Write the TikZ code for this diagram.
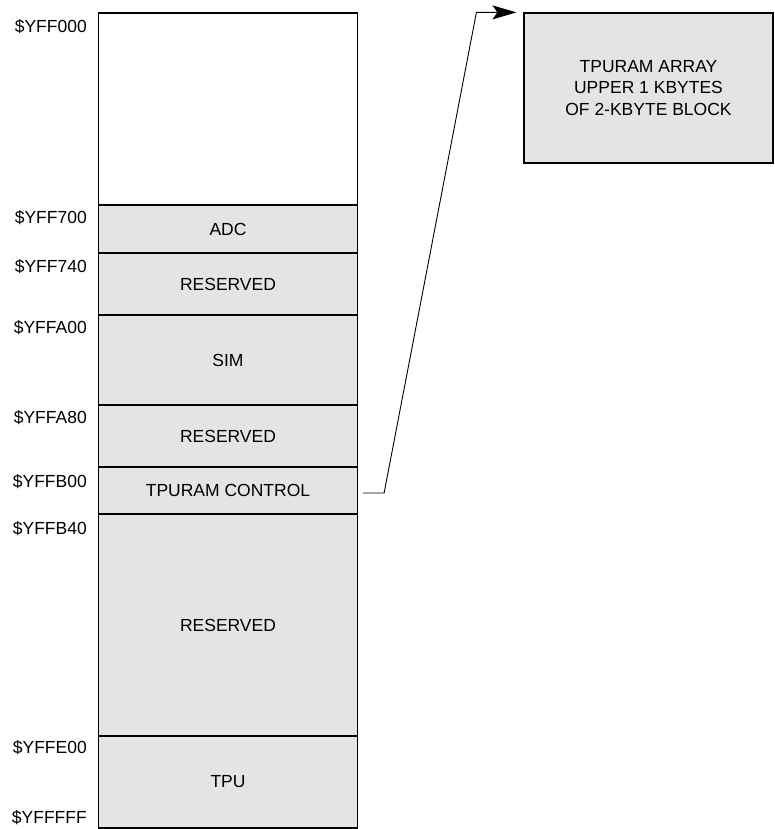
\documentclass[tikz,border=0pt]{standalone}
\usepackage{fontspec}
\setmainfont{Liberation Sans}
\usetikzlibrary{arrows.meta,positioning}
\definecolor{segfill}{HTML}{E4E4E4}

\begin{document}
\begin{tikzpicture}[x=1pt, y=-1pt,
  seg/.style={rectangle, draw, line width=1.2pt, fill=#1, minimum width=259pt, inner sep=0pt, font=\fontsize{17.5}{21.5}\selectfont, align=center},
  seg/.default=segfill,
  addr/.style={anchor=east, inner sep=0pt, font=\fontsize{17.5}{21.5}\selectfont},
  msg/.style={-{Stealth[length=24pt, width=14pt, inset=5pt]}, line width=0.9pt}
]
  \useasboundingbox (0,0) rectangle (774,829);
  % memory map
  \node[seg=white, minimum height=192pt] (free) at (228,109) {};
  \node[seg, minimum height=48pt] (adc) at (228,229) {ADC};
  \node[seg, minimum height=62pt] (resa) at (228,284) {RESERVED};
  \node[seg, minimum height=90pt] (sim) at (228,360) {SIM};
  \node[seg, minimum height=62pt] (resb) at (228,436) {RESERVED};
  \node[seg, minimum height=47pt] (tpc) at (228,490.5) {TPURAM CONTROL};
  \node[seg, minimum height=222pt] (resc) at (228,625) {RESERVED};
  \node[seg, minimum height=92pt] (tpu) at (228,782) {TPU};
  % addresses
  \node[addr] (a0) at (87,27) {\$YFF000};
  \node[addr] (a1) at (87,218) {\$YFF700};
  \node[addr] (a2) at (87,267) {\$YFF740};
  \node[addr] (a3) at (87,328) {\$YFFA00};
  \node[addr] (a4) at (87,418) {\$YFFA80};
  \node[addr] (a5) at (87,482) {\$YFFB00};
  \node[addr] (a6) at (87,529) {\$YFFB40};
  \node[addr] (a7) at (87,748) {\$YFFE00};
  \node[addr] (a8) at (87,818) {\$YFFFFF};
  % tpuram array
  \node[seg, minimum width=249pt, minimum height=150pt] (arr) at (648.5,88) {TPURAM ARRAY\\UPPER 1 KBYTES\\OF 2-KBYTE BLOCK};
  \draw[msg] ([xshift=5pt, yshift=-2.5pt]tpc.east) -- ++(21,0) -- ([xshift=-47pt]arr.north west) -- ([xshift=-7pt]arr.north west);
\end{tikzpicture}
\end{document}
